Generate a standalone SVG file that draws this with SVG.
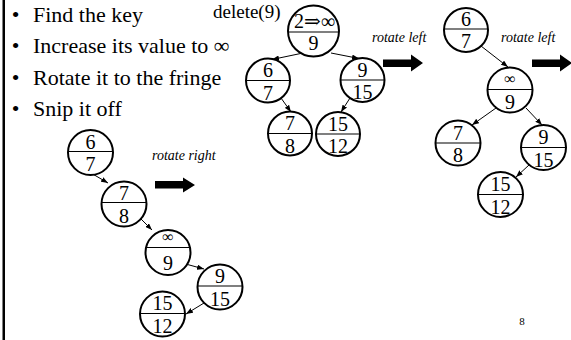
<svg xmlns="http://www.w3.org/2000/svg" width="571" height="340" viewBox="0 0 571 340">
<defs>
<style>
.n circle{fill:#fff;stroke:#000;stroke-width:2}
.n line{stroke:#000;stroke-width:1.2}
.n text{font-family:"Liberation Serif","DejaVu Serif",serif;font-size:20px;text-anchor:middle;fill:#000}
.n text.inf{font-size:16px}
.b{font-family:"Liberation Serif","DejaVu Serif",serif;font-size:22px;fill:#000}
.lbl{font-family:"Liberation Serif",serif;font-style:italic;font-size:14px;fill:#000}
.c line{stroke:#000;stroke-width:1;marker-end:url(#ah)}
.blk{fill:#000}
</style>
<marker id="ah" viewBox="0 0 8 6" refX="8" refY="3" markerWidth="7" markerHeight="5.5" markerUnits="userSpaceOnUse" orient="auto">
<path d="M0,0 L8,3 L0,6 z" fill="#000"/>
</marker>
</defs>
<rect x="0" y="0" width="571" height="340" fill="#fff"/>
<rect x="2.5" y="0" width="2.5" height="340" fill="#000"/>

<g id="bullets">
<text class="b" x="15.5" y="21.5" text-anchor="middle">•</text>
<text class="b" x="33" y="21.5">Find the key</text>
<text class="b" x="15.5" y="53" text-anchor="middle">•</text>
<text class="b" x="33" y="53">Increase its value to ∞</text>
<text class="b" x="15.5" y="84.5" text-anchor="middle">•</text>
<text class="b" x="33" y="84.5">Rotate it to the fringe</text>
<text class="b" x="15.5" y="116" text-anchor="middle">•</text>
<text class="b" x="33" y="116">Snip it off</text>
</g>

<text id="delete-label" x="213" y="18" font-family="'Liberation Serif',serif" font-size="19px" fill="#000">delete(9)</text>

<g id="labels">
<text class="lbl" x="372" y="41.5">rotate left</text>
<text class="lbl" x="501" y="41.5">rotate left</text>
<text class="lbl" x="152" y="160">rotate right</text>
<text x="522" y="325" font-family="'Liberation Serif',serif" font-size="11px" text-anchor="middle" fill="#000">8</text>
</g>

<g id="block-arrows" class="blk">
<path d="M383,59.5 H411 V54.5 L423,63 L411,71.5 V67 H383 Z"/>
<path d="M532,59.5 H560 V54.5 L572,63 L560,71.5 V67 H532 Z"/>
<path d="M155,181 H183 V177.5 L195,185 L183,192.5 V188.5 H155 Z"/>
</g>

<g id="connectors" class="c">
<line x1="303" y1="53" x2="272" y2="59.5"/>
<line x1="331" y1="53" x2="359" y2="58.5"/>
<line x1="281" y1="98" x2="291" y2="112"/>
<line x1="350" y1="98" x2="341" y2="112"/>
<line x1="481" y1="46" x2="508" y2="67"/>
<line x1="496" y1="108" x2="472" y2="125"/>
<line x1="526" y1="108" x2="542" y2="125"/>
<line x1="529" y1="165" x2="516" y2="177"/>
<line x1="91" y1="173" x2="108" y2="183"/>
<line x1="140" y1="218" x2="152" y2="230"/>
<line x1="182" y1="263" x2="204" y2="269"/>
<line x1="204" y1="303" x2="186" y2="314"/>
</g>

<g id="t1-root" class="n">
<circle cx="313.5" cy="31" r="25.5"/>
<line x1="288" y1="32" x2="339" y2="32"/>
<text x="314.5" y="27.5">2⇒∞</text>
<text x="313.5" y="50">9</text>
</g>
<g id="t1-6-7" class="n">
<circle cx="268" cy="80.5" r="22"/>
<line x1="246" y1="80.5" x2="290" y2="80.5"/>
<text x="268" y="77">6</text>
<text x="268" y="99.5">7</text>
</g>
<g id="t1-9-15" class="n">
<circle cx="362.5" cy="80" r="22"/>
<line x1="340.5" y1="80" x2="384.5" y2="80"/>
<text x="362.5" y="76.5">9</text>
<text x="362.5" y="99">15</text>
</g>
<g id="t1-7-8" class="n">
<circle cx="290" cy="133.5" r="22"/>
<line x1="268" y1="133.5" x2="312" y2="133.5"/>
<text x="290" y="130">7</text>
<text x="290" y="152.5">8</text>
</g>
<g id="t1-15-12" class="n">
<circle cx="338" cy="134" r="22"/>
<line x1="316" y1="134" x2="360" y2="134"/>
<text x="338" y="130.5">15</text>
<text x="338" y="153">12</text>
</g>

<g id="t2-6-7" class="n">
<circle cx="466" cy="30" r="22"/>
<line x1="444" y1="29" x2="488" y2="29"/>
<text x="466" y="25.5">6</text>
<text x="466" y="47.5">7</text>
</g>
<g id="t2-inf-9" class="n">
<circle cx="510" cy="90" r="22.5"/>
<line x1="487.5" y1="89.5" x2="532.5" y2="89.5"/>
<text class="inf" x="510" y="84">∞</text>
<text x="510" y="108.5">9</text>
</g>
<g id="t2-7-8" class="n">
<circle cx="458" cy="143" r="22.5"/>
<line x1="435.5" y1="143" x2="480.5" y2="143"/>
<text x="458" y="139.5">7</text>
<text x="458" y="162">8</text>
</g>
<g id="t2-9-15" class="n">
<circle cx="543.5" cy="147.5" r="22.5"/>
<line x1="521" y1="147.5" x2="566" y2="147.5"/>
<text x="543.5" y="144">9</text>
<text x="543.5" y="166.5">15</text>
</g>
<g id="t2-15-12" class="n">
<circle cx="500.5" cy="194.5" r="22.5"/>
<line x1="478" y1="194.5" x2="523" y2="194.5"/>
<text x="500.5" y="191">15</text>
<text x="500.5" y="213.5">12</text>
</g>

<g id="t3-6-7" class="n">
<circle cx="90.5" cy="152.5" r="22.5"/>
<line x1="68" y1="151.5" x2="113" y2="151.5"/>
<text x="90.5" y="148.5">6</text>
<text x="90.5" y="171">7</text>
</g>
<g id="t3-7-8" class="n">
<circle cx="124" cy="204" r="22.5"/>
<line x1="101.5" y1="202.5" x2="146.5" y2="202.5"/>
<text x="124" y="199.5">7</text>
<text x="124" y="222.5">8</text>
</g>
<g id="t3-inf-9" class="n">
<circle cx="168" cy="252.5" r="22.5"/>
<line x1="145.5" y1="247.5" x2="190.5" y2="247.5"/>
<text class="inf" x="168" y="242">∞</text>
<text x="168" y="270">9</text>
</g>
<g id="t3-9-15" class="n">
<circle cx="220" cy="287" r="22.5"/>
<line x1="197.5" y1="286" x2="242.5" y2="286"/>
<text x="220" y="282.5">9</text>
<text x="220" y="305.5">15</text>
</g>
<g id="t3-15-12" class="n">
<circle cx="162.5" cy="314" r="22.5"/>
<line x1="140" y1="313.5" x2="185" y2="313.5"/>
<text x="162.5" y="310">15</text>
<text x="162.5" y="333">12</text>
</g>
</svg>
